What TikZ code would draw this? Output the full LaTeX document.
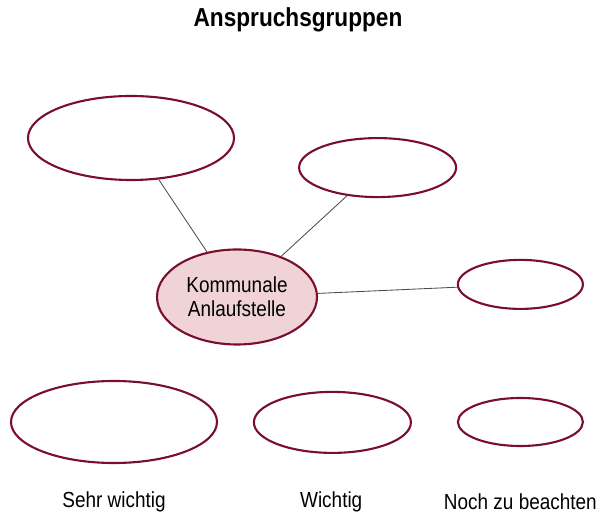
\documentclass[tikz,border=0pt]{standalone}
\usepackage{fontspec}
\setmainfont{Liberation Sans}[FakeStretch=0.87]
\usetikzlibrary{shapes.geometric}
\definecolor{rand}{HTML}{7A0E2E}
\definecolor{rosa}{HTML}{EFD3D6}
\tikzset{
  gruppe/.style={ellipse, draw=rand, line width=1.5pt, inner sep=0pt},
  kante/.style={draw=black!70, line width=0.6pt}
}
\begin{document}
\begin{tikzpicture}[every text node part/.style={align=center}, font=\fontsize{15.5}{16.8}\selectfont]
      \useasboundingbox (0,0) rectangle (14.925,12.85);

      \node (TitelN)  at (7.45,12.35) {\fontsize{18.5}{20}\selectfont\textbf{Anspruchsgruppen}};

      \node[gruppe, minimum width=5.15cm, minimum height=2.1cm]  (ObenL)  at (3.275,9.4)   {};
      \node[gruppe, minimum width=3.925cm, minimum height=1.475cm] (ObenM) at (9.44,8.66)  {};
      \node[gruppe, fill=rosa, minimum width=4cm, minimum height=2.375cm] (KommN) at (5.925,5.425) {Kommunale\\Anlaufstelle};
      \node[gruppe, minimum width=3.125cm, minimum height=1.225cm] (RechtsN) at (13.01,5.74) {};

      \node[gruppe, minimum width=5.15cm, minimum height=2.05cm]  (SehrN)  at (2.85,2.3)   {};
      \node[gruppe, minimum width=3.925cm, minimum height=1.525cm] (WichtN) at (8.31,2.29)  {};
      \node[gruppe, minimum width=3.125cm, minimum height=1.2cm]  (NochN)  at (13.01,2.3)  {};

      \node (SehrL)  at (2.85,0.3)  {Sehr wichtig};
      \node (WichtL) at (8.28,0.3)  {Wichtig};
      \node (NochL)  at (13.01,0.3) {Noch zu beachten};

      \draw[kante] (ObenL)   -- (KommN);
      \draw[kante] (ObenM)   -- (KommN);
      \draw[kante] (RechtsN) -- (KommN);
    \end{tikzpicture}
\end{document}
